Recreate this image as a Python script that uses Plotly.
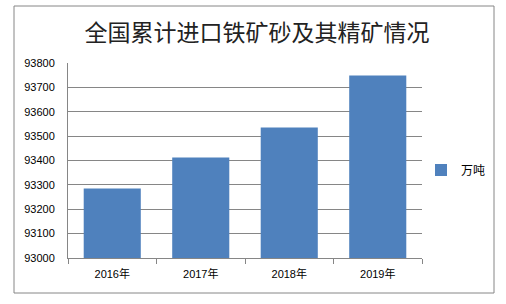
import plotly.graph_objects as go

categories = ["2016年", "2017年", "2018年", "2019年"]
values = [93285, 93412, 93535, 93749]
series_name = "万吨"
title_text = "全国累计进口铁矿砂及其精矿情况"

W, H = 506, 304
L, R, T, B = 68, 422, 63, 258
pw, ph = R - L, B - T

def px(x):
    return (x - L) / pw

def py(y):
    return (B - y) / ph

fig = go.Figure()
fig.add_trace(go.Bar(
    x=categories, y=values, name=series_name,
    marker=dict(color="#4F81BD", line=dict(width=0)),
    width=0.645, showlegend=True,
))

tick_font = dict(family="Liberation Sans, Noto Sans CJK SC, sans-serif", size=11, color="#000000")

fig.update_layout(
    width=W, height=H,
    margin=dict(l=L, r=W - R, t=T, b=H - B, pad=0),
    paper_bgcolor="white", plot_bgcolor="white",
    title=dict(text=title_text, x=257 / W, xanchor="center", y=1 - 33 / H, yanchor="middle",
               font=dict(family="Noto Sans CJK SC, sans-serif", size=23, color="#222222")),
    xaxis=dict(
        type="category", showline=True, linecolor="#868686", linewidth=1,
        ticks="outside", tickson="boundaries", ticklen=5, tickcolor="#868686",
        showgrid=False, tickfont=tick_font, fixedrange=True, ticklabelstandoff=6,
    ),
    yaxis=dict(
        range=[93000, 93800], dtick=100, showline=True, linecolor="#868686", linewidth=1,
        showgrid=True, gridcolor="#868686", gridwidth=1, ticks="", tickfont=tick_font,
        tickformat="d", zeroline=False, ticklabelstandoff=10,
    ),
    legend=dict(x=px(421), y=py(170), xanchor="left", yanchor="middle",
                font=dict(family="Liberation Sans, Noto Sans CJK SC, sans-serif", size=12, color="#000000"),
                bgcolor="rgba(0,0,0,0)", itemwidth=30),
    bargap=0.355,
    shapes=[dict(type="rect", xref="paper", yref="paper",
                 x0=px(14), x1=px(494), y0=py(293), y1=py(6),
                 line=dict(color="#868686", width=1), fillcolor="rgba(0,0,0,0)", layer="below")],
)

fig.write_html("out.html")
